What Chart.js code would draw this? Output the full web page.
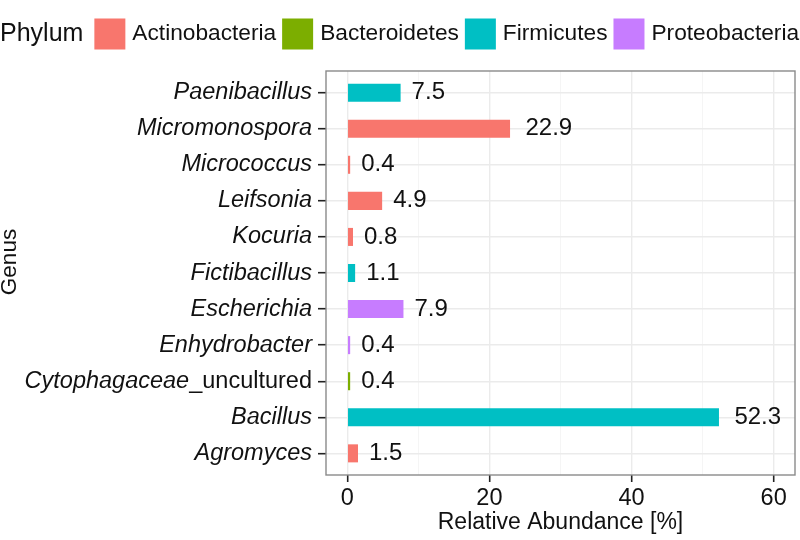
<!DOCTYPE html>
<html>
<head>
<meta charset="utf-8">
<script src="https://cdn.jsdelivr.net/npm/chart.js@4"></script>
<style>
  html, body { margin:0; padding:0; background:#fff; }
  canvas { display:block; }
</style>
</head>
<body>
<canvas id="genusChart" width="800" height="540"></canvas>
<script>
// ===============================
// DATA (bottom -> top)
// ===============================
const genus = [
  "Agromyces", "Bacillus", "Cytophagaceae_uncultured", "Enhydrobacter",
  "Escherichia", "Fictibacillus", "Kocuria", "Leifsonia",
  "Micrococcus", "Micromonospora", "Paenibacillus"
];
const abundance = [1.5, 52.3, 0.4, 0.4, 7.9, 1.1, 0.8, 4.9, 0.4, 22.9, 7.5];
const phylumOf = [
  "Actinobacteria", "Firmicutes", "Bacteroidetes", "Proteobacteria",
  "Proteobacteria", "Firmicutes", "Actinobacteria", "Actinobacteria",
  "Actinobacteria", "Actinobacteria", "Firmicutes"
];
const phyla = ["Actinobacteria", "Bacteroidetes", "Firmicutes", "Proteobacteria"];
const phylumColors = ["#F8766D", "#7CAE00", "#00BFC4", "#C77CFF"];
const xTicks = [0, 10, 20, 30, 40, 50, 60];

const FONT = "'Liberation Sans', Arial, Helvetica, sans-serif";
const MIXED = "Cytophagaceae_uncultured";

// ===============================
// PLUGINS
// ===============================
const legendPlugin = {
  id: 'topLegend',
  afterDraw(chart){
    const c = chart.ctx;
    c.save();
    c.textBaseline = 'middle';
    c.fillStyle = '#111';
    const cy = 34;
    c.font = `25px ${FONT}`;
    c.fillText("Phylum", 0, cy);
    let x = c.measureText("Phylum").width + 11;
    c.font = `22.7px ${FONT}`;
    phyla.forEach((p, i) => {
      c.fillStyle = phylumColors[i];
      c.fillRect(x, cy - 15.5, 31, 31);
      c.fillStyle = '#111';
      c.fillText(p, x + 38, cy);
      x += 38 + c.measureText(p).width + 6;
    });
    c.restore();
  }
};

const extrasPlugin = {
  id: 'extras',
  afterDatasetsDraw(chart){
    const c = chart.ctx;
    const a = chart.chartArea;
    c.save();

    // panel border
    c.strokeStyle = '#8a8a8a';
    c.lineWidth = 1.4;
    c.strokeRect(a.left, a.top, a.right - a.left, a.bottom - a.top);

    // value labels
    c.font = `24px ${FONT}`;
    c.fillStyle = '#111';
    c.textBaseline = 'middle';
    c.textAlign = 'left';
    chart.getDatasetMeta(0).data.forEach((bar, i) => {
      const txt = abundance[i].toFixed(1);
      const w = c.measureText(txt).width;
      c.fillText(txt, bar.x + w * 0.33, bar.y);
    });

    // mixed italic/upright tick label
    const ys = chart.scales.y;
    const idx = genus.indexOf(MIXED);
    const py = ys.getPixelForValue(idx + 1);
    const right = a.left - 14;
    c.textAlign = 'right';
    c.font = `23.5px ${FONT}`;
    const tail = "_uncultured";
    c.fillText(tail, right, py);
    const tw = c.measureText(tail).width;
    c.font = `italic 23.5px ${FONT}`;
    c.fillText("Cytophagaceae", right - tw, py);

    // y title
    c.font = `22.5px ${FONT}`;
    c.textAlign = 'center';
    c.translate(10, 262);
    c.rotate(-Math.PI / 2);
    c.fillText("Genus", 0, 0);

    c.restore();
  }
};

// ===============================
// CHART
// ===============================
const ctx = document.getElementById("genusChart");

new Chart(ctx, {
  type: 'bar',
  data: {
    datasets: [{
      data: genus.map((g, i) => ({ x: abundance[i], y: i + 1 })),
      backgroundColor: phylumOf.map(p => phylumColors[phyla.indexOf(p)]),
      borderWidth: 0,
      categoryPercentage: 1,
      barPercentage: 0.5
    }]
  },
  options: {
    indexAxis: 'y',
    responsive: false,
    animation: false,
    devicePixelRatio: 1,
    layout: { padding: { top: 71, right: 5, left: 0, bottom: 0 } },
    plugins: {
      legend: { display: false },
      tooltip: { enabled: false }
    },
    scales: {
      x: {
        type: 'linear',
        min: -3,
        max: 63,
        offset: false,
        afterBuildTicks: s => { s.ticks = xTicks.map(v => ({ value: v })); },
        afterFit: s => { s.height = 65; },
        ticks: {
          color: '#111',
          font: { size: 23.5, family: FONT },
          padding: 2,
          maxRotation: 0,
          autoSkip: false,
          callback: v => (v % 20 === 0 ? String(v) : '')
        },
        grid: {
          offset: false,
          color: c => (c.tick && c.tick.value % 20 === 0 ? '#ebebeb' : '#f4f4f4'),
          lineWidth: c => (c.tick && c.tick.value % 20 === 0 ? 1.4 : 0.9),
          tickColor: c => (c.tick && c.tick.value % 20 === 0 ? '#222' : 'rgba(0,0,0,0)'),
          tickLength: 7,
          tickWidth: 1.6
        },
        border: { display: false },
        title: {
          display: true,
          text: "Relative Abundance [%]",
          color: '#111',
          font: { size: 23, family: FONT },
          padding: { top: 0, bottom: 4 }
        }
      },
      y: {
        type: 'linear',
        min: 0.4,
        max: 11.6,
        offset: false,
        afterBuildTicks: s => { s.ticks = genus.map((g, i) => ({ value: i + 1 })); },
        afterFit: s => { s.width = 326; },
        ticks: {
          color: c => (genus[c.tick.value - 1] === MIXED ? 'rgba(0,0,0,0)' : '#111'),
          font: { size: 23.5, family: FONT, style: 'italic' },
          padding: 6,
          autoSkip: false,
          callback: v => genus[v - 1] || ''
        },
        grid: {
          offset: false,
          color: '#ebebeb',
          lineWidth: 1.4,
          tickColor: '#222',
          tickLength: 8,
          tickWidth: 1.6
        },
        border: { display: false }
      }
    }
  },
  plugins: [legendPlugin, extrasPlugin]
});
</script>
</body>
</html>
